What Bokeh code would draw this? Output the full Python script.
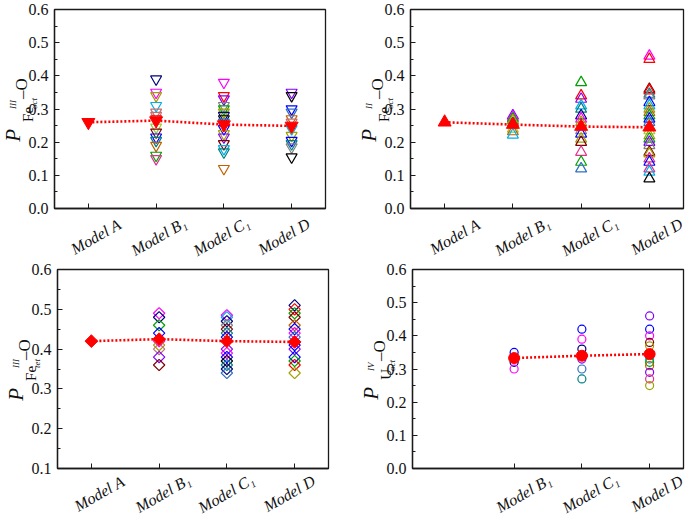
import math
from bokeh.plotting import figure
from bokeh.layouts import column, row
from bokeh.models import FixedTicker, SingleIntervalTicker, Range1d, CustomJSTickFormatter
from bokeh.core.properties import value
from bokeh.embed import file_html
from bokeh.resources import INLINE

# ---------------- data ----------------
categories = ["Model A", "Model B\u2081", "Model C\u2081", "Model D"]
yticks_full = [0.0, 0.1, 0.2, 0.3, 0.4, 0.5, 0.6]
yticks_tet = [0.1, 0.2, 0.3, 0.4, 0.5, 0.6]

# Panel (a): P Fe(III)oct - O   (inverted triangles)
fe3oct_B1 = [0.39, 0.35, 0.34, 0.31, 0.29, 0.28, 0.27, 0.245, 0.23, 0.215, 0.205, 0.19, 0.16, 0.15]
fe3oct_C1 = [0.38, 0.34, 0.33, 0.31, 0.30, 0.29, 0.28, 0.27, 0.26, 0.24, 0.225, 0.215, 0.195, 0.18, 0.17, 0.12]
fe3oct_D = [0.35, 0.34, 0.30, 0.29, 0.27, 0.26, 0.24, 0.22, 0.205, 0.195, 0.185, 0.155]
fe3oct_mean = [0.26, 0.265, 0.253, 0.249]

# Panel (b): P Fe(II)oct - O   (triangles)
fe2oct_B1 = [0.28, 0.275, 0.27, 0.265, 0.257, 0.24, 0.232, 0.222]
fe2oct_C1 = [0.38, 0.34, 0.33, 0.31, 0.30, 0.28, 0.27, 0.26, 0.235, 0.225, 0.21, 0.20, 0.17, 0.14, 0.12]
fe2oct_D = [0.46, 0.45, 0.36, 0.355, 0.345, 0.34, 0.32, 0.31, 0.30, 0.29, 0.28, 0.27, 0.26,
            0.235, 0.22, 0.21, 0.20, 0.19, 0.17, 0.165, 0.15, 0.14, 0.12, 0.11, 0.09]
fe2oct_mean = [0.26, 0.253, 0.247, 0.245]

# Panel (c): P Fe(III)tet - O   (diamonds)
fe3tet_B1 = [0.49, 0.48, 0.46, 0.44, 0.42, 0.41, 0.40, 0.38, 0.36]
fe3tet_C1 = [0.485, 0.48, 0.47, 0.46, 0.45, 0.44, 0.43, 0.40, 0.39, 0.38, 0.37, 0.36, 0.35, 0.34]
fe3tet_D = [0.51, 0.50, 0.49, 0.48, 0.46, 0.45, 0.44, 0.43, 0.41, 0.40, 0.38, 0.37, 0.36, 0.34]
fe3tet_mean = [0.42, 0.425, 0.42, 0.418]

# Panel (d): P U(IV)oct - O   (circles)
u4oct_B1 = [0.35, 0.32, 0.30]
u4oct_C1 = [0.42, 0.39, 0.36, 0.33, 0.30, 0.27]
u4oct_D = [0.46, 0.42, 0.40, 0.38, 0.37, 0.33, 0.32, 0.31, 0.29, 0.27, 0.25]
u4oct_mean = [0.333, 0.34, 0.345]

# ---------------- styles ----------------
C = {
    "black": "#000000", "red": "#ff0000", "blue": "#0000ff", "magenta": "#ff00ff",
    "olive": "#a0a000", "navy": "#000080", "purple": "#8000ff", "maroon": "#800000",
    "teal": "#008080", "cyan": "#00b0e8", "green": "#00a000", "orange": "#c06000",
    "pink": "#e0308a", "gray": "#808080", "steel": "#3070c0", "rosy": "#c07070",
    "yg": "#9acd32",
}
col_a = {
    1: ["navy", "magenta", "olive", "cyan", "rosy", "rosy", "red", "yg", "maroon", "blue", "teal", "orange", "green", "pink"],
    2: ["magenta", "red", "purple", "gray", "green", "olive", "navy", "black", "steel", "blue", "olive", "purple", "maroon", "cyan", "teal", "orange"],
    3: ["purple", "black", "blue", "steel", "orange", "rosy", "cyan", "olive", "blue", "teal", "gray", "black"],
}
col_b = {
    1: ["purple", "magenta", "green", "olive", "teal", "yg", "orange", "cyan"],
    2: ["green", "red", "purple", "cyan", "teal", "navy", "magenta", "olive", "gray", "blue", "olive", "maroon", "pink", "green", "steel"],
    3: ["magenta", "red", "maroon", "red", "teal", "gray", "blue", "cyan", "olive", "orange", "green", "blue", "steel",
        "yg", "olive", "green", "purple", "gray", "maroon", "olive", "pink", "blue", "pink", "cyan", "black"],
}
col_c = {
    1: ["magenta", "navy", "green", "blue", "magenta", "olive", "rosy", "purple", "maroon"],
    2: ["magenta", "cyan", "navy", "gray", "maroon", "teal", "blue", "purple", "magenta", "blue", "black", "teal", "navy", "steel"],
    3: ["navy", "red", "green", "maroon", "orange", "blue", "magenta", "steel", "blue", "purple", "blue", "green", "red", "olive"],
}
col_d = {
    1: ["blue", "navy", "magenta"],
    2: ["blue", "magenta", "navy", "purple", "steel", "teal"],
    3: ["purple", "blue", "magenta", "maroon", "olive", "cyan", "green", "orange", "purple", "pink", "olive"],
}

SERIF = value("Liberation Serif")
AX = "#1a1a1a"
TXT = "#111111"
EM = {"Fe": 1.0, "U": 0.722, "III": 1.0, "II": 0.667, "IV": 0.944, "oct": 1.222, "tet": 1.0}
EMPTY = CustomJSTickFormatter(code="return ''")


def blank(width, height, xr, yr):
    f = figure(width=width, height=height, x_range=xr, y_range=yr,
               x_axis_type=None, y_axis_type=None, output_backend="svg", toolbar_location=None,
               min_border_left=0, min_border_right=0, min_border_top=0, min_border_bottom=0)
    f.outline_line_color = None
    f.background_fill_color = "white"
    f.border_fill_color = "white"
    return f


def make_panel(geom, y0, y1, yticks, cols, colors, mean_cats, means,
               marker, msize, mangle, fsize, atom, sup, sub, tick_cats):
    PX0, PW, PY0, PH, FL, FR, FT, FB = geom
    E = 1e-6
    ky = (FB - FT) / (y1 - y0)          # px per data unit (y)
    kx = (FR - FL) / 4.0                # px per category (x range -0.5..3.5)

    # ---- main plotting figure ----
    p = figure(width=PX0 + PW - (FL - 2), height=FB + 2 - PY0,
               x_range=Range1d(-0.5, 3.5), y_range=Range1d(y0 - E, y1 + E),
               output_backend="svg", toolbar_location=None,
               min_border_left=2, min_border_right=PX0 + PW - FR,
               min_border_top=FT - PY0, min_border_bottom=2)
    p.xgrid.visible = False
    p.ygrid.visible = False
    p.outline_line_color = AX
    p.outline_line_width = 1.3
    p.border_fill_color = "white"

    ya = p.yaxis[0]
    ya.ticker = SingleIntervalTicker(interval=0.1, num_minor_ticks=2)
    ya.formatter = EMPTY
    ya.major_tick_in = 5
    ya.major_tick_out = 0
    ya.minor_tick_in = 3
    ya.minor_tick_out = 0
    ya.axis_line_color = AX
    ya.axis_line_width = 1.3
    ya.major_tick_line_color = AX
    ya.minor_tick_line_color = AX
    ya.major_label_text_font_size = "1px"
    ya.major_label_standoff = 0

    xa = p.xaxis[0]
    xa.ticker = FixedTicker(ticks=[categories.index(c) for c in tick_cats], minor_ticks=[])
    xa.formatter = EMPTY
    xa.major_tick_in = 5
    xa.major_tick_out = 0
    xa.axis_line_color = AX
    xa.axis_line_width = 1.3
    xa.major_tick_line_color = AX
    xa.major_label_text_font_size = "1px"
    xa.major_label_standoff = 0

    for ci, vals in cols.items():
        p.scatter(x=[ci] * len(vals), y=vals, marker=marker, size=msize, angle=mangle,
                  fill_color=None, line_color=[C[c] for c in colors[ci]], line_width=1.2)

    mx = [categories.index(c) for c in mean_cats]
    p.line(mx, means, line_color="red", line_width=2.6, line_dash="2 2")
    p.scatter(x=mx, y=means, marker=marker, size=fsize, angle=mangle,
              fill_color="red", line_color="red", line_width=1)

    # ---- left strip: y tick labels + composite y-axis title ----
    yl = blank(FL - 2 - PX0, PH, Range1d(PX0 - FL, -2),
               Range1d(y0 - (PY0 + PH - FB) / ky, y1 + (FT - PY0) / ky))
    yl.text(x=[-6] * len(yticks), y=yticks, text=["%.1f" % t for t in yticks],
            text_align="right", text_baseline="middle", text_font=SERIF,
            text_font_size="16px", text_color=TXT)

    yc = (y0 + y1) / 2
    wp = 13.0
    wa = 15 * EM[atom]
    wsup = 9 * EM[sup]
    wsub = 9 * EM[sub]
    wsc = max(wsup, wsub)
    wd = 20.8
    total = 20 + wa - 2 + wsc - 1 + wd
    s0 = -1 - total / 2
    s_atom = s0 + 20
    s_scr = s_atom + wa - 2
    s_dash = s_scr + wsc - 1
    # (text, centre x offset from frame left, centre along axis, size, style)
    pieces = [
        ("P", -42, s0 + wp / 2, "21px", "italic"),
        (atom, -27, s_atom + wa / 2, "15px", "normal"),
        (sup, -42, s_scr + wsup / 2, "9px", "italic"),
        (sub, -21, s_scr + wsub / 2, "9px", "italic"),
        ("\u2013O", -33, s_dash + wd / 2, "17px", "normal"),
    ]
    for txt, dx, s, fs, st in pieces:
        yl.text(x=[dx], y=[yc + s / ky], text=[txt], angle=math.pi / 2,
                text_align="center", text_baseline="middle", text_font=SERIF,
                text_font_style=st, text_font_size=fs, text_color=TXT)

    # ---- bottom strip: rotated category labels ----
    strip_h = PY0 + PH - (FB + 2)
    xl = blank(PX0 + PW - (FL - 2), strip_h,
               Range1d(-0.5 - 2 / kx, 3.5 + (PX0 + PW - FR) / kx),
               Range1d(-(PY0 + PH - FB), -2))
    tx = [categories.index(c) + 9 / kx for c in tick_cats]
    ty = -(2 + strip_h / 2)
    xl.text(x=tx, y=[ty] * len(tick_cats), text=list(tick_cats), angle=math.pi / 6,
            text_align="center", text_baseline="middle", text_font=SERIF,
            text_font_style="italic", text_font_size="16px", text_color=TXT)

    return row(yl, column(p, xl))


# geometry: panel x0, width, y0, height, frame left, right, top, bottom (page px)
g1 = (0, 345, 0, 262, 54, 325, 9, 208)
g2 = (345, 340, 0, 262, 410, 683, 9, 208)
g3 = (0, 345, 262, 254, 57, 328, 269, 468)
g4 = (345, 340, 262, 254, 412, 683, 269, 468)

a = make_panel(g1, 0.0, 0.6, yticks_full, {1: fe3oct_B1, 2: fe3oct_C1, 3: fe3oct_D}, col_a,
               categories, fe3oct_mean, "inverted_triangle", 11, 0.0, 13,
               "Fe", "III", "oct", categories)
b = make_panel(g2, 0.0, 0.6, yticks_full, {1: fe2oct_B1, 2: fe2oct_C1, 3: fe2oct_D}, col_b,
               categories, fe2oct_mean, "triangle", 11, 0.0, 13,
               "Fe", "II", "oct", categories)
c = make_panel(g3, 0.1, 0.6, yticks_tet, {1: fe3tet_B1, 2: fe3tet_C1, 3: fe3tet_D}, col_c,
               categories, fe3tet_mean, "square", 8, math.pi / 4, 9,
               "Fe", "III", "tet", categories)
d = make_panel(g4, 0.0, 0.6, yticks_full, {1: u4oct_B1, 2: u4oct_C1, 3: u4oct_D}, col_d,
               categories[1:], u4oct_mean, "circle", 8, 0.0, 11,
               "U", "IV", "oct", categories[1:])

layout = column(row(a, b), row(c, d))
open("out.html", "w").write(file_html(layout, INLINE))
